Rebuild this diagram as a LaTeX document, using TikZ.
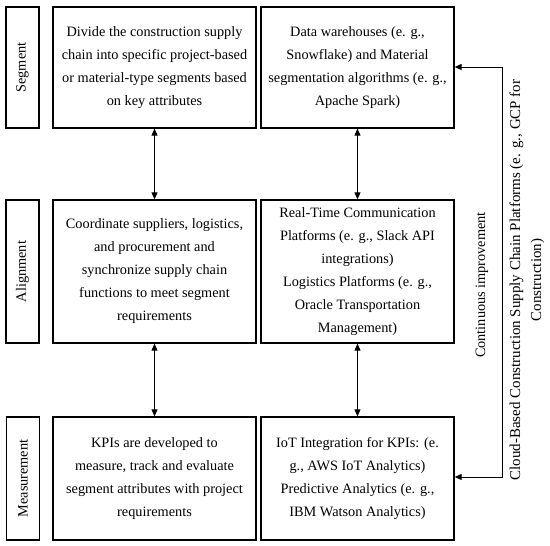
\documentclass[tikz,border=0pt]{standalone}
\usepackage{fontspec}
\setmainfont{Liberation Serif}
\usetikzlibrary{arrows.meta}
\begin{document}
\begin{tikzpicture}[x=1pt,y=1pt,
  txt/.style={font=\fontsize{14.3}{23}\selectfont, align=center},
  box/.style={draw, line width=1.3pt, inner sep=0pt, txt},
  lab/.style={box, rotate=90},
  con/.style={line width=0.9pt, {Triangle[length=7pt,width=6pt]}-{Triangle[length=7pt,width=6pt]}}
]
\useasboundingbox (0,0) rectangle (550,546);
% row 1
\node[lab, minimum width=121, minimum height=33] (S) at (22.5,478.5) {Segment};
\node[box, minimum width=203, minimum height=121] (L1) at (154.5,478.5) {Divide the construction supply\\chain into specific project-based\\or material-type segments based\\on key attributes};
\node[box, minimum width=193, minimum height=121] (R1) at (357.5,478.5) {Data warehouses (e. g.,\\Snowflake) and Material\\segmentation algorithms (e. g.,\\Apache Spark)};
% row 2
\node[lab, minimum width=143, minimum height=33] (A) at (22.5,274.5) {Alignment};
\node[box, minimum width=203, minimum height=143] (L2) at (154.5,274.5) {Coordinate suppliers, logistics,\\and procurement and\\synchronize supply chain\\functions to meet segment\\requirements};
\node[box, minimum width=193, minimum height=143] (R2) at (357.5,274.5) {Real-Time Communication\\Platforms (e. g., Slack API\\integrations)\\Logistics Platforms (e. g.,\\Oracle Transportation\\Management)};
% row 3
\node[lab, minimum width=123, minimum height=33] (M) at (23,67.5) {Measurement};
\node[box, minimum width=203, minimum height=123] (L3) at (154.5,67.5) {KPIs are developed to\\measure, track and evaluate\\segment attributes with project\\requirements};
\node[box, minimum width=193, minimum height=123] (R3) at (357.5,67.5) {IoT Integration for KPIs: (e.\\g., AWS IoT Analytics)\\Predictive Analytics (e. g.,\\IBM Watson Analytics)};
% vertical connectors
\draw[con] (L1.south) -- (L2.north);
\draw[con] (L2.south) -- (L3.north);
\draw[con] (R1.south) -- (R2.north);
\draw[con] (R2.south) -- (R3.north);
% feedback loop
\coordinate (fbT) at (502,479);
\coordinate (fbB) at (502,69);
\draw[con] (R3.east |- fbB) -- (fbB) -- (fbT) -- (R1.east |- fbT);
\node[txt, rotate=90] (ci) at (482,261) {Continuous improvement};
\node[txt, rotate=90, font=\fontsize{15}{21}\selectfont] (cl) at (527,266) {Cloud-Based Construction Supply Chain Platforms (e. g., GCP for\\Construction)};
\end{tikzpicture}
\end{document}
